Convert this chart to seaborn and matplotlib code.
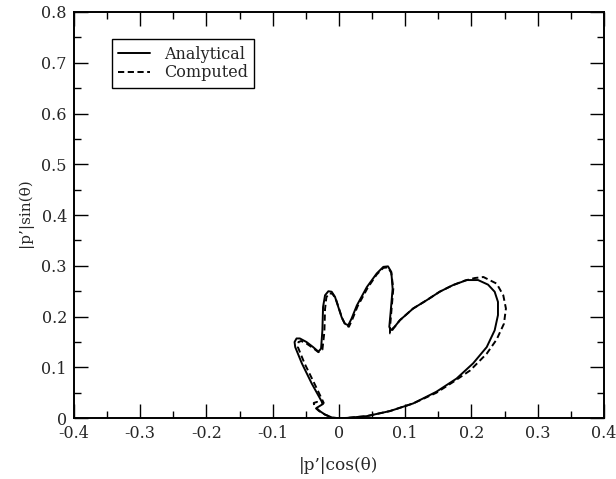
import matplotlib
matplotlib.use("Agg")
import matplotlib.pyplot as plt
import seaborn as sns
import pandas as pd
from matplotlib.ticker import MultipleLocator

# Analytical curve (|p'|cos, |p'|sin)
ana_x = [0.0, 0.012, 0.042, 0.077, 0.112, 0.147, 0.1775, 0.2025, 0.223, 0.235,
         0.240, 0.240, 0.235, 0.225, 0.210, 0.193, 0.172, 0.152, 0.132, 0.112,
         0.092, 0.084, 0.078, 0.076, 0.078, 0.081, 0.079, 0.074, 0.067, 0.057,
         0.042, 0.027, 0.019, 0.014, 0.009, 0.004, -0.001, -0.006, -0.011, -0.016,
         -0.021, -0.024, -0.025, -0.027, -0.031, -0.039, -0.049, -0.059, -0.064, -0.067,
         -0.066, -0.056, -0.041, -0.024, -0.034, -0.029, -0.021, -0.010, 0.0]
ana_y = [0.0, 0.0005, 0.004, 0.014, 0.029, 0.052, 0.078, 0.108, 0.140, 0.173,
         0.203, 0.229, 0.249, 0.263, 0.272, 0.272, 0.262, 0.249, 0.232, 0.216,
         0.193, 0.180, 0.173, 0.180, 0.209, 0.255, 0.288, 0.299, 0.298, 0.285,
         0.258, 0.222, 0.196, 0.183, 0.186, 0.199, 0.219, 0.239, 0.249, 0.250,
         0.242, 0.219, 0.173, 0.137, 0.131, 0.140, 0.150, 0.157, 0.157, 0.150,
         0.140, 0.108, 0.068, 0.028, 0.020, 0.014, 0.007, 0.001, 0.0]

# Computed curve
com_x = [0.0, 0.012, 0.042, 0.077, 0.112, 0.147, 0.172, 0.198, 0.223, 0.238,
         0.249, 0.252, 0.248, 0.238, 0.218, 0.205, 0.190, 0.172, 0.152, 0.132,
         0.112, 0.092, 0.083, 0.077, 0.077, 0.079, 0.082, 0.079, 0.074, 0.067,
         0.057, 0.043, 0.028, 0.020, 0.015, 0.010, 0.005, 0.000, -0.005, -0.010,
         -0.015, -0.019, -0.021, -0.022, -0.025, -0.031, -0.039, -0.049, -0.057, -0.061,
         -0.062, -0.052, -0.037, -0.023, -0.033, -0.038, -0.037, -0.030, -0.021, -0.010, 0.0]
com_y = [0.0, 0.0005, 0.004, 0.014, 0.029, 0.050, 0.071, 0.094, 0.127, 0.155,
         0.186, 0.216, 0.242, 0.265, 0.278, 0.276, 0.271, 0.262, 0.249, 0.232,
         0.216, 0.193, 0.178, 0.167, 0.178, 0.209, 0.255, 0.286, 0.297, 0.296,
         0.283, 0.256, 0.220, 0.194, 0.180, 0.183, 0.196, 0.216, 0.236, 0.245,
         0.246, 0.238, 0.215, 0.170, 0.135, 0.130, 0.138, 0.147, 0.152, 0.150,
         0.140, 0.108, 0.068, 0.030, 0.032, 0.030, 0.022, 0.014, 0.007, 0.001, 0.0]

x_ticks = [-0.4, -0.3, -0.2, -0.1, 0, 0.1, 0.2, 0.3, 0.4]
x_tick_labels = ["-0.4", "-0.3", "-0.2", "-0.1", "0", "0.1", "0.2", "0.3", "0.4"]
y_ticks = [0, 0.1, 0.2, 0.3, 0.4, 0.5, 0.6, 0.7, 0.8]
y_tick_labels = ["0", "0.1", "0.2", "0.3", "0.4", "0.5", "0.6", "0.7", "0.8"]

sns.set_style("white")
plt.rcParams['font.family'] = ['DejaVu Serif', 'Liberation Serif']

fig = plt.figure(figsize=(6.16, 4.79), dpi=100)
ax = fig.add_axes([0.120, 0.127, 0.8605, 0.848])

sns.lineplot(x=ana_x, y=ana_y, sort=False, estimator=None, color='black',
             linewidth=1.4, ax=ax, label='Analytical')
sns.lineplot(x=com_x, y=com_y, sort=False, estimator=None, color='black',
             linewidth=1.4, linestyle=(0, (3.2, 1.8)), ax=ax, label='Computed')

ax.set_xlim(-0.4, 0.4)
ax.set_ylim(0, 0.8)
ax.set_xticks(x_ticks)
ax.set_xticklabels(x_tick_labels)
ax.set_yticks(y_ticks)
ax.set_yticklabels(y_tick_labels)
ax.xaxis.set_minor_locator(MultipleLocator(0.05))
ax.yaxis.set_minor_locator(MultipleLocator(0.05))
ax.tick_params(which='both', direction='in', top=True, right=True, bottom=True, left=True,
               color='black', labelsize=11.5, width=1.0)
ax.tick_params(which='major', length=10)
ax.tick_params(which='minor', length=5)
ax.tick_params(axis='x', pad=5)
ax.tick_params(axis='y', pad=5)
for s in ax.spines.values():
    s.set_visible(True)
    s.set_color('black')
    s.set_linewidth(1.4)

ax.set_xlabel("|p\u2019|cos(\u03b8)", fontsize=12.2)
ax.set_ylabel("|p\u2019|sin(\u03b8)", fontsize=11)
ax.xaxis.set_label_coords(0.5, -0.0955)
ax.yaxis.set_label_coords(-0.077, 0.505)

leg = ax.legend(loc='upper left', bbox_to_anchor=(0.072, 0.933), borderaxespad=0,
                frameon=True, fancybox=False, edgecolor='black', fontsize=11.5,
                handlelength=1.95, handletextpad=0.9, borderpad=0.4, labelspacing=0.1)
leg.get_frame().set_linewidth(1.0)
leg.get_frame().set_alpha(1)

fig.savefig("out.png", dpi=100)
